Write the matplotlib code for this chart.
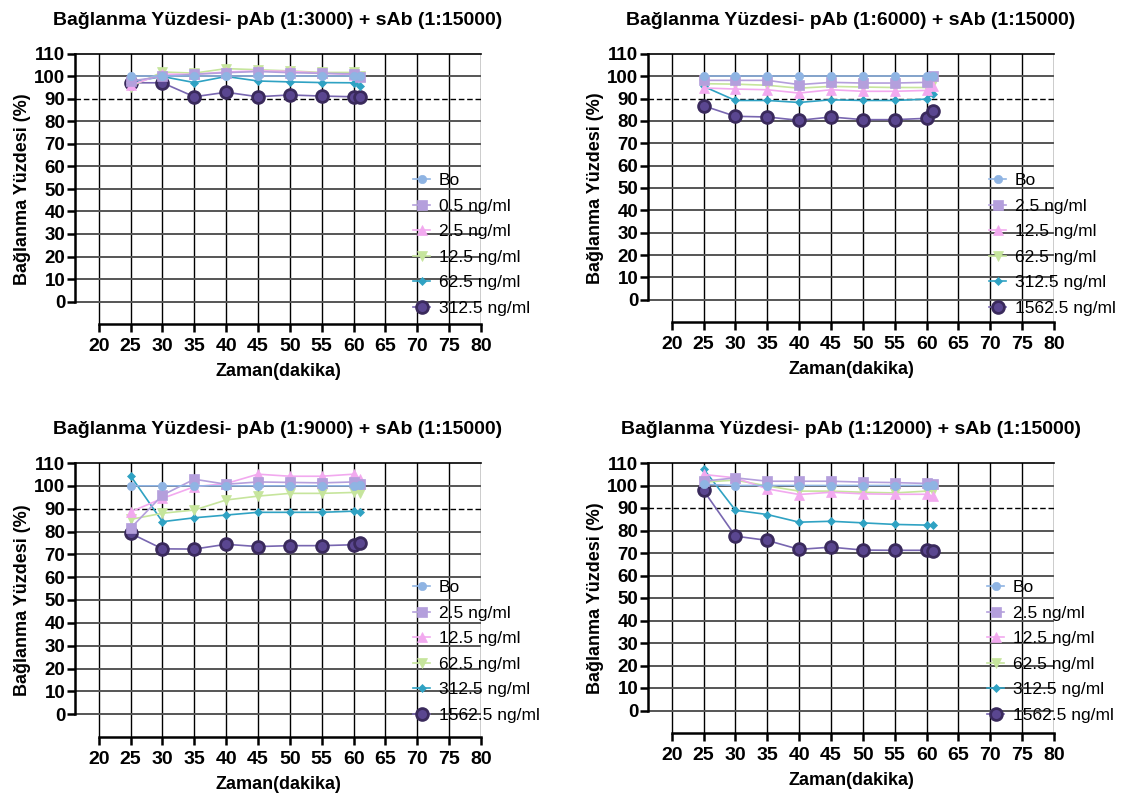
import matplotlib
matplotlib.use("Agg")
import matplotlib.pyplot as plt

plt.rcParams['font.family'] = ['Liberation Sans', 'DejaVu Sans']

W, H = 1127, 796

times = [25, 30, 35, 40, 45, 50, 55, 60, 61]

titles = [
    "Bağlanma Yüzdesi- pAb (1:3000) + sAb (1:15000)",
    "Bağlanma Yüzdesi- pAb (1:6000) + sAb (1:15000)",
    "Bağlanma Yüzdesi- pAb (1:9000) + sAb (1:15000)",
    "Bağlanma Yüzdesi- pAb (1:12000) + sAb (1:15000)",
]

labels_p1 = ["Bo", "0.5 ng/ml", "2.5 ng/ml", "12.5 ng/ml", "62.5 ng/ml", "312.5 ng/ml"]
labels_p234 = ["Bo", "2.5 ng/ml", "12.5 ng/ml", "62.5 ng/ml", "312.5 ng/ml", "1562.5 ng/ml"]

# Panel 1: pAb 1:3000
p1_bo = [100, 100, 100, 100, 100, 100, 100, 100, 100]
p1_s1 = [98, 100, 101, 101.7, 102.2, 101.7, 101.4, 101.2, 99.8]
p1_s2 = [96.2, 101, 101, 102, 102.5, 102.3, 101.5, 100.8, 100]
p1_s3 = [95.5, 102, 101.5, 103.5, 103, 102.5, 101.8, 101.8, 100]
p1_s4 = [97.5, 100, 97.3, 100, 98, 97.6, 97.3, 97.2, 95.8]
p1_s5 = [97.2, 97.2, 91.0, 93.0, 91.0, 91.8, 91.3, 91.0, 90.7]

# Panel 2: pAb 1:6000
p2_bo = [100, 100, 100, 100, 100, 100, 100, 100, 100]
p2_s1 = [98.2, 98.2, 98.2, 96.3, 97.3, 97.0, 97.0, 97.3, 100]
p2_s2 = [94.8, 94.3, 94.0, 92.5, 94.0, 93.3, 93.3, 93.7, 95.5]
p2_s3 = [96.7, 96.5, 96.0, 94.7, 95.5, 95.2, 95.0, 95.0, 97.0]
p2_s4 = [95.5, 89.2, 89.2, 88.3, 89.5, 89.2, 89.2, 89.8, 92.2]
p2_s5 = [86.8, 82.1, 81.8, 80.3, 81.8, 80.6, 80.6, 81.2, 84.3]

# Panel 3: pAb 1:9000
p3_bo = [100, 100, 100, 100, 100, 100, 100, 100, 100.5]
p3_s1 = [81.4, 95.9, 102.9, 100.7, 101.7, 101.5, 101.3, 101.7, 100.7]
p3_s2 = [88.6, 94.5, 99.6, 101.0, 105.1, 104.2, 104.2, 105.1, 103.2]
p3_s3 = [85.3, 88.0, 89.4, 93.8, 95.5, 96.7, 96.7, 97.1, 97.0]
p3_s4 = [104.4, 84.3, 86.0, 87.2, 88.4, 88.4, 88.4, 88.9, 88.6]
p3_s5 = [79.2, 72.4, 72.3, 74.4, 73.4, 73.8, 73.8, 74.2, 74.8]

# Panel 4: pAb 1:12000
p4_bo = [100.5, 100, 100, 100, 100, 100, 100, 100, 100.3]
p4_s1 = [101.9, 103.4, 101.9, 101.9, 101.9, 101.5, 101.3, 100.9, 100.6]
p4_s2 = [104.9, 103.4, 98.5, 96.0, 97.0, 96.3, 96.1, 96.1, 95.2]
p4_s3 = [101.5, 102.4, 99.8, 97.5, 97.5, 97.0, 96.7, 97.5, 97.5]
p4_s4 = [107.4, 89.0, 87.1, 83.7, 84.1, 83.4, 82.7, 82.4, 82.4]
p4_s5 = [97.8, 77.5, 75.6, 71.6, 72.6, 71.3, 71.2, 71.2, 70.8]

panels = [
    (titles[0], labels_p1, [p1_bo, p1_s1, p1_s2, p1_s3, p1_s4, p1_s5]),
    (titles[1], labels_p234, [p2_bo, p2_s1, p2_s2, p2_s3, p2_s4, p2_s5]),
    (titles[2], labels_p234, [p3_bo, p3_s1, p3_s2, p3_s3, p3_s4, p3_s5]),
    (titles[3], labels_p234, [p4_bo, p4_s1, p4_s2, p4_s3, p4_s4, p4_s5]),
]

# series styles: (marker, markersize, face, edge, linecolor, mew)
styles = [
    ('o', 6.0, '#8fb4e3', '#8fb4e3', '#8fb4e3', 0.5),
    ('s', 6.5, '#b49fdc', '#b49fdc', '#b49fdc', 0.5),
    ('^', 6.5, '#f2a9ef', '#f2a9ef', '#f2a9ef', 0.5),
    ('v', 6.5, '#c6e59c', '#c6e59c', '#c6e59c', 0.5),
    ('D', 4.3, '#2fa2c3', '#2fa2c3', '#2fa2c3', 0.5),
    ('o', 8.5, '#5a4690', '#3a2a5c', '#7866b0', 2.0),
]

# axes boxes in pixels: (left, right, top, bottom), legend left px, legend top px
boxes = [
    (75, 481, 54, 324, 413, 173),
    (648, 1054, 54, 322, 989, 173),
    (75, 481, 463, 737, 413, 580),
    (648, 1054, 463, 733, 987, 580),
]

fig = plt.figure(figsize=(W / 100, H / 100), dpi=100)

for (title, labels, series), (l, r, t, b, lgx, lgy) in zip(panels, boxes):
    ax = fig.add_axes([l / W, 1 - b / H, (r - l) / W, (b - t) / H])
    xmin = 20 - (98.7 - 75) / ((481 - 98.7) / 60)
    ax.set_xlim(xmin, 80)
    ax.set_ylim(-10, 110)

    # grid lines
    for xv in range(20, 81, 5):
        ax.axvline(xv, color='black', lw=1.0, zorder=1)
    for yv in range(0, 111, 10):
        if yv == 90:
            ax.axhline(yv, color='black', lw=1.0, ls=(0, (4, 2)), zorder=1)
        elif yv == 110:
            continue
        else:
            ax.axhline(yv, color='#555555', lw=1.4, zorder=1)

    handles = []
    for i in range(len(series) - 1, -1, -1):
        m, ms, fc, ec, lc, mew = styles[i]
        ln, = ax.plot(times, series[i], color=lc, lw=1.2, marker=m, markersize=ms,
                      markerfacecolor=fc, markeredgecolor=ec, markeredgewidth=mew,
                      label=labels[i], zorder=3 + (len(series) - i))
        handles.append(ln)
    handles = handles[::-1]

    ax.spines['left'].set_bounds(0, 110)
    ax.spines['left'].set_linewidth(1.8)
    ax.spines['bottom'].set_bounds(20, 80)
    ax.spines['bottom'].set_linewidth(1.8)
    ax.spines['top'].set_linewidth(1.2)
    ax.spines['right'].set_visible(False)

    ax.set_xticks(range(20, 81, 5))
    ax.set_yticks(range(0, 111, 10))
    ax.tick_params(axis='x', length=6, width=1.8, labelsize=14, pad=4)
    ax.tick_params(axis='y', length=6, width=1.8, labelsize=13.5, pad=1)
    for lab in ax.get_xticklabels() + ax.get_yticklabels():
        lab.set_fontweight('bold')

    ax.set_xlabel("Zaman(dakika)", fontsize=13, fontweight='bold', labelpad=6)
    ax.set_ylabel("Bağlanma Yüzdesi (%)", fontsize=13, fontweight='bold', labelpad=2)
    ax.set_title(title, fontsize=14, fontweight='bold', pad=21)

    bx = (lgx - l) / (r - l)
    by = (b - lgy) / (b - t)
    ax.legend(handles=handles, loc='upper left', bbox_to_anchor=(bx, by),
              frameon=False, fontsize=12.5, handlelength=1.0, handletextpad=0.5,
              labelspacing=0.6, borderaxespad=0, borderpad=0)

fig.savefig("out.png", dpi=100)
